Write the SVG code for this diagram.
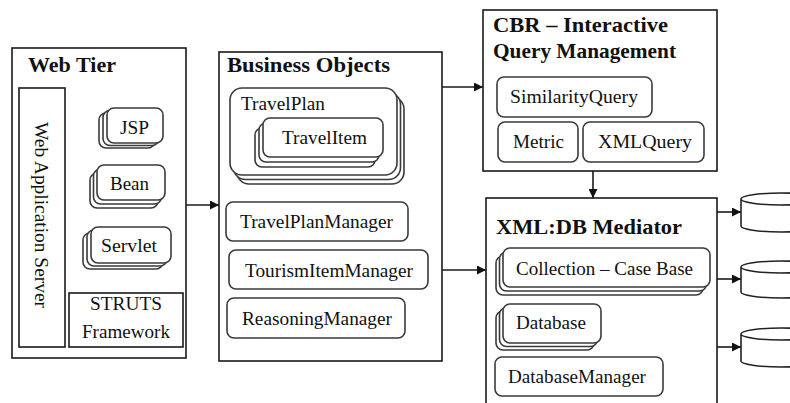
<svg xmlns="http://www.w3.org/2000/svg" width="790" height="403" viewBox="0 0 790 403">
<style>
.box{fill:#fff;stroke:#1a1a1a;stroke-width:1.6}
.rb{fill:#fff;stroke:#3a3a3a;stroke-width:1.6}
.t{font-family:'Liberation Serif','DejaVu Serif',serif;font-size:19px;fill:#111}
.h{font-family:'Liberation Serif','DejaVu Serif',serif;font-size:21px;font-weight:bold;fill:#111}
.c{fill:none;stroke:#1a1a1a;stroke-width:1.6}
.cyl{fill:#fff;stroke:#222;stroke-width:1.6}
</style>
<defs>
<marker id="ah" viewBox="0 0 10 10" refX="10" refY="5" markerWidth="9" markerHeight="9" markerUnits="userSpaceOnUse" orient="auto">
<path d="M0,0 L10,5 L0,10 z" fill="#111"/>
</marker>
</defs>
<rect width="790" height="403" fill="#fff"/>

<g id="web-tier">
<rect class="box" x="12" y="48" width="174" height="310"/>
<text class="h" font-family="Liberation Serif, serif" x="28" y="72" textLength="88" lengthAdjust="spacingAndGlyphs">Web Tier</text>
</g>
<g id="web-app-server">
<rect class="box" x="19" y="88" width="46" height="259"/>
<text class="t" font-family="Liberation Serif, serif" transform="translate(35,215) rotate(90)" text-anchor="middle" textLength="186" lengthAdjust="spacingAndGlyphs">Web Application Server</text>
</g>
<g id="jsp">
<rect class="rb" x="99" y="113" width="56" height="35" rx="7"/>
<rect class="rb" x="103" y="110.5" width="56" height="35" rx="7"/>
<rect class="rb" x="107" y="108" width="56" height="35" rx="7"/>
<text class="t" font-family="Liberation Serif, serif" x="120" y="134" textLength="29" lengthAdjust="spacingAndGlyphs">JSP</text>
</g>
<g id="bean">
<rect class="rb" x="90" y="173" width="68" height="35" rx="7"/>
<rect class="rb" x="93.5" y="169" width="68" height="35" rx="7"/>
<rect class="rb" x="97" y="165" width="68" height="35" rx="7"/>
<text class="t" font-family="Liberation Serif, serif" x="110" y="190" textLength="39" lengthAdjust="spacingAndGlyphs">Bean</text>
</g>
<g id="servlet">
<rect class="rb" x="83" y="233" width="80" height="36" rx="7"/>
<rect class="rb" x="87" y="230" width="80" height="36" rx="7"/>
<rect class="rb" x="91" y="227" width="80" height="36" rx="7"/>
<text class="t" font-family="Liberation Serif, serif" x="101" y="252" textLength="56" lengthAdjust="spacingAndGlyphs">Servlet</text>
</g>
<g id="struts">
<rect class="box" x="69" y="293" width="114" height="54"/>
<text class="t" font-family="Liberation Serif, serif" x="90" y="310" textLength="72" lengthAdjust="spacingAndGlyphs">STRUTS</text>
<text class="t" font-family="Liberation Serif, serif" x="82" y="338" textLength="88" lengthAdjust="spacingAndGlyphs">Framework</text>
</g>

<g id="business-objects">
<rect class="box" x="219" y="52" width="223" height="309"/>
<text class="h" font-family="Liberation Serif, serif" x="227" y="72" textLength="163" lengthAdjust="spacingAndGlyphs">Business Objects</text>
</g>
<g id="travelplan">
<rect class="rb" x="237" y="97" width="167" height="87" rx="12"/>
<rect class="rb" x="233.5" y="92.5" width="167" height="87" rx="12"/>
<rect class="rb" x="230" y="88" width="167" height="87" rx="12"/>
<text class="t" font-family="Liberation Serif, serif" x="241" y="110" textLength="84" lengthAdjust="spacingAndGlyphs">TravelPlan</text>
</g>
<g id="travelitem">
<rect class="rb" x="255" y="128" width="120" height="39" rx="7"/>
<rect class="rb" x="259" y="123" width="120" height="39" rx="7"/>
<rect class="rb" x="263" y="118" width="120" height="39" rx="7"/>
<text class="t" font-family="Liberation Serif, serif" x="282" y="144" textLength="85" lengthAdjust="spacingAndGlyphs">TravelItem</text>
</g>
<g id="travelplanmanager">
<rect class="rb" x="226" y="202" width="182" height="39" rx="7"/>
<text class="t" font-family="Liberation Serif, serif" x="240" y="228" textLength="153" lengthAdjust="spacingAndGlyphs">TravelPlanManager</text>
</g>
<g id="tourismitemmanager">
<rect class="rb" x="229" y="250" width="199" height="39" rx="7"/>
<text class="t" font-family="Liberation Serif, serif" x="245" y="277" textLength="168" lengthAdjust="spacingAndGlyphs">TourismItemManager</text>
</g>
<g id="reasoningmanager">
<rect class="rb" x="227" y="298" width="178" height="40" rx="7"/>
<text class="t" font-family="Liberation Serif, serif" x="242" y="325" textLength="150" lengthAdjust="spacingAndGlyphs">ReasoningManager</text>
</g>

<g id="cbr">
<rect class="box" x="483" y="10" width="234" height="161"/>
<text class="h" font-family="Liberation Serif, serif" x="493" y="32" textLength="175" lengthAdjust="spacingAndGlyphs">CBR – Interactive</text>
<text class="h" font-family="Liberation Serif, serif" x="493" y="58" textLength="183" lengthAdjust="spacingAndGlyphs">Query Management</text>
</g>
<g id="similarityquery">
<rect class="rb" x="497" y="77" width="155" height="40" rx="7"/>
<text class="t" font-family="Liberation Serif, serif" x="510" y="103" textLength="128" lengthAdjust="spacingAndGlyphs">SimilarityQuery</text>
</g>
<g id="metric">
<rect class="rb" x="498" y="122" width="80" height="40" rx="7"/>
<text class="t" font-family="Liberation Serif, serif" x="513" y="148" textLength="51" lengthAdjust="spacingAndGlyphs">Metric</text>
</g>
<g id="xmlquery">
<rect class="rb" x="583" y="122" width="121" height="40" rx="7"/>
<text class="t" font-family="Liberation Serif, serif" x="598" y="148" textLength="94" lengthAdjust="spacingAndGlyphs">XMLQuery</text>
</g>

<g id="xmldb">
<rect class="box" x="486" y="198" width="231" height="215"/>
<text class="h" font-family="Liberation Serif, serif" x="496" y="234" textLength="186" lengthAdjust="spacingAndGlyphs">XML:DB Mediator</text>
</g>
<g id="collection">
<rect class="rb" x="496" y="256" width="207" height="39" rx="7"/>
<rect class="rb" x="499.5" y="252" width="207" height="39" rx="7"/>
<rect class="rb" x="503" y="248" width="207" height="39" rx="7"/>
<text class="t" font-family="Liberation Serif, serif" x="516" y="275" textLength="177" lengthAdjust="spacingAndGlyphs">Collection – Case Base</text>
</g>
<g id="database">
<rect class="rb" x="496" y="311" width="98" height="39" rx="7"/>
<rect class="rb" x="499.5" y="307.5" width="98" height="39" rx="7"/>
<rect class="rb" x="503" y="304" width="98" height="39" rx="7"/>
<text class="t" font-family="Liberation Serif, serif" x="516" y="329" textLength="70" lengthAdjust="spacingAndGlyphs">Database</text>
</g>
<g id="databasemanager">
<rect class="rb" x="495" y="357" width="168" height="39" rx="7"/>
<text class="t" font-family="Liberation Serif, serif" x="508" y="383" textLength="138" lengthAdjust="spacingAndGlyphs">DatabaseManager</text>
</g>

<g id="db1">
<path class="cyl" d="M741,199 L741,226 A40,6 0 0 0 821,226 L821,199 A40,6 0 0 0 741,199 A40,6 0 0 0 821,199"/>
</g>
<g id="db2">
<path class="cyl" d="M741,267 L741,292 A40,6 0 0 0 821,292 L821,267 A40,6 0 0 0 741,267 A40,6 0 0 0 821,267"/>
</g>
<g id="db3">
<path class="cyl" d="M741,334 L741,361 A40,6 0 0 0 821,361 L821,334 A40,6 0 0 0 741,334 A40,6 0 0 0 821,334"/>
</g>

<g id="connectors">
<line class="c" x1="186" y1="205" x2="219" y2="205" marker-end="url(#ah)"/>
<line class="c" x1="442" y1="87" x2="483" y2="87" marker-end="url(#ah)"/>
<line class="c" x1="442" y1="270" x2="486" y2="270" marker-end="url(#ah)"/>
<line class="c" x1="593" y1="171" x2="593" y2="198" marker-end="url(#ah)"/>
<line class="c" x1="717" y1="212" x2="741" y2="212" marker-end="url(#ah)"/>
<line class="c" x1="717" y1="279" x2="741" y2="279" marker-end="url(#ah)"/>
<line class="c" x1="717" y1="347" x2="741" y2="347" marker-end="url(#ah)"/>
</g>
</svg>
